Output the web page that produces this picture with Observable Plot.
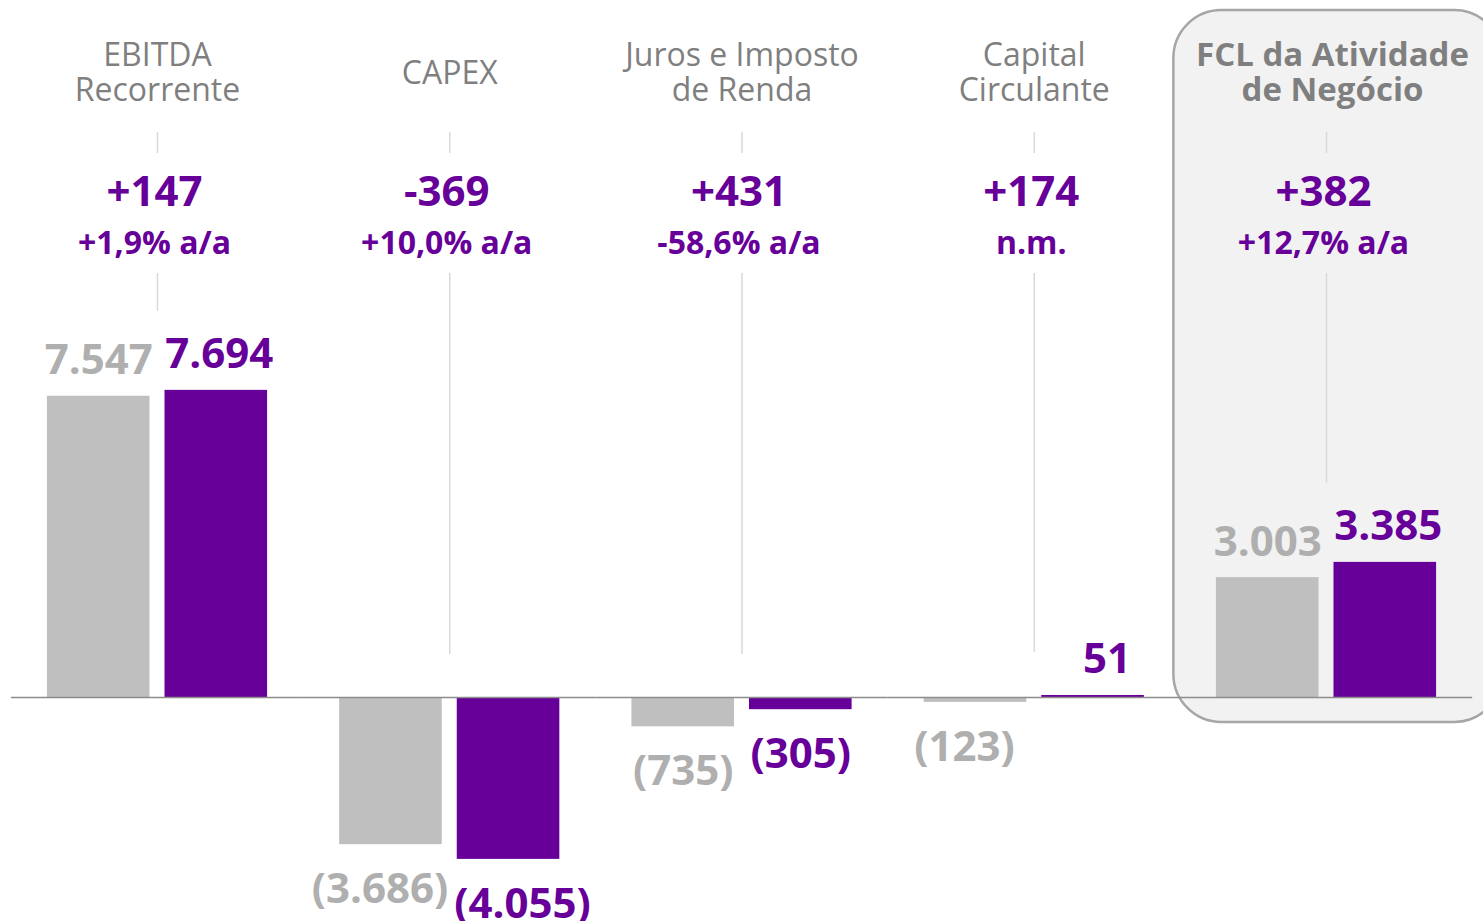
<!DOCTYPE html>
<html>
<head>
<meta charset="utf-8">
<script src="https://cdn.jsdelivr.net/npm/d3@7"></script>
<script src="https://cdn.jsdelivr.net/npm/@observablehq/plot@0.6"></script>
<style>
  html, body { margin: 0; padding: 0; background: #fff; overflow: hidden; }
  #chart svg { display: block; }
</style>
</head>
<body>
<div id="chart"></div>
<script>
// ---- data ----
const categories = [
  "EBITDA\nRecorrente",
  "CAPEX",
  "Juros e Imposto\nde Renda",
  "Capital\nCirculante",
  "FCL da Atividade\nde Negócio"
];
const highlighted = "FCL da Atividade\nde Negócio";
const seriesNames = ["Anterior", "Atual"];
const prevValues = [7547, -3686, -735, -123, 3003];
const currValues = [7694, -4055, -305, 51, 3385];
const deltaLabels = ["+147", "-369", "+431", "+174", "+382"];
const pctLabels = ["+1,9% a/a", "+10,0% a/a", "-58,6% a/a", "n.m.", "+12,7% a/a"];

// ---- derived tables ----
const locale = d3.formatLocale({decimal: ",", thousands: ".", grouping: [3], currency: ["", ""]});
const fmt = locale.format(",d");
const label = v => v < 0 ? `(${fmt(-v)})` : fmt(v);

const bars = categories.flatMap((c, i) => {
  const p = prevValues[i], q = currValues[i];
  // labels pushed apart when both are long negatives, or when signs differ
  const spread = (p < 0 && q < 0 && Math.min(-p, -q) >= 1000) || (p * q < 0);
  return [
    {cat: c, series: seriesNames[0], value: p, spread},
    {cat: c, series: seriesNames[1], value: q, spread}
  ];
});
const headerRows = categories.map((c, i) => ({cat: c, delta: deltaLabels[i], pct: pctLabels[i],
  top: Math.max(prevValues[i], currValues[i], 0)}));

const PURPLE = "#660099";
const GRAY_BAR = "#bfbfbf";
const GRAY_TXT = "#afafaf";
const yTop = 17460;

function valueTexts(series, fill) {
  const isCur = series === seriesNames[1];
  const base = {fx: "cat", x: "series", y: "value", text: d => label(d.value), fill,
    fontSize: 42, fontWeight: "bold", textAnchor: "middle", lineAnchor: "bottom"};
  const shift = isCur ? 14 : -11;
  const mine = bars.filter(d => d.series === series);
  return [
    Plot.text(mine.filter(d => d.value >= 0 && !d.spread), {...base, dy: -22, dx: isCur ? 3 : 0}),
    Plot.text(mine.filter(d => d.value >= 0 && d.spread), {...base, dy: -22, dx: shift}),
    Plot.text(mine.filter(d => d.value < 0 && !d.spread), {...base, dy: 58.5}),
    Plot.text(mine.filter(d => d.value < 0 && d.spread), {...base, dy: 58.5, dx: shift})
  ];
}

const chart = Plot.plot({
  width: 1483,
  height: 921,
  marginTop: 0,
  marginBottom: 0,
  marginLeft: 10.875,
  marginRight: 10.875,
  style: {fontFamily: "'Open Sans', 'Noto Sans', sans-serif", background: "#fff"},
  fx: {domain: categories, padding: 0, round: false, axis: null},
  x: {domain: seriesNames, paddingInner: 0.1276, paddingOuter: 0.3064, round: false, axis: null},
  y: {domain: [-5611, yTop], axis: null},
  color: {domain: seriesNames, range: [GRAY_BAR, PURPLE]},
  marks: [
    // highlight panel
    Plot.rect([highlighted], {fx: d => d, fill: "#f2f2f2", stroke: "#a6a6a6", strokeWidth: 2.5, rx: 48,
      insetLeft: -6.5, insetRight: -30, insetTop: 10, insetBottom: 199}),
    // connector rules
    Plot.ruleX(categories, {fx: d => d, x: null, stroke: "#d9d9d9", strokeWidth: 1.5, insetTop: 132, insetBottom: 921 - 153}),
    Plot.ruleX(headerRows.filter(d => d.top > 1000), {fx: "cat", x: null, y1: "top", y2: () => yTop,
      stroke: "#d9d9d9", strokeWidth: 1.5, insetTop: -79, insetBottom: -273}),
    Plot.ruleX(headerRows.filter(d => d.top <= 1000), {fx: "cat", x: null, y1: "top", y2: () => yTop,
      stroke: "#d9d9d9", strokeWidth: 1.5, insetTop: -43, insetBottom: -273}),
    // bars
    Plot.barY(bars, {fx: "cat", x: "series", y: "value", fill: "series"}),
    Plot.ruleY([0], {stroke: "#8c8c8c", strokeWidth: 1.5}),
    // value labels
    ...valueTexts(seriesNames[0], GRAY_TXT),
    ...valueTexts(seriesNames[1], PURPLE),
    // headers
    Plot.text(categories.filter(c => c !== highlighted), {fx: d => d, text: d => d, frameAnchor: "top",
      lineAnchor: "middle", dy: 72, fontSize: 32, lineHeight: 35 / 32, fill: "#7f7f7f"}),
    Plot.text([highlighted], {fx: d => d, text: d => d, frameAnchor: "top", dx: 6,
      lineAnchor: "middle", dy: 72, fontSize: 33, lineHeight: 35 / 33, fill: "#7f7f7f", fontWeight: "bold"}),
    Plot.text(headerRows, {fx: "cat", text: "delta", frameAnchor: "top", lineAnchor: "bottom", dy: 205, dx: -3,
      fontSize: 42, fontWeight: "bold", fill: PURPLE}),
    Plot.text(headerRows, {fx: "cat", text: "pct", frameAnchor: "top", lineAnchor: "bottom", dy: 253, dx: -3,
      fontSize: 32, fontWeight: "bold", fill: PURPLE})
  ]
});
document.getElementById("chart").appendChild(chart);
</script>
</body>
</html>
